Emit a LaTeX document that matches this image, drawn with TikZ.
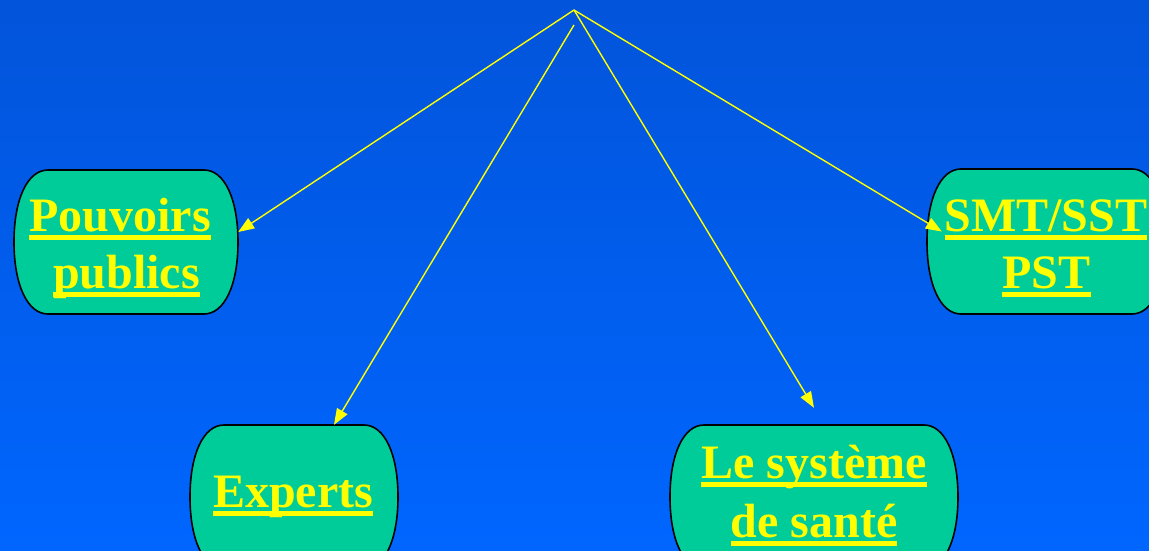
\documentclass[tikz,border=0pt]{standalone}
\usepackage{fontspec}
\setmainfont{Liberation Serif}
\usetikzlibrary{arrows.meta}

\definecolor{bgtop}{RGB}{2,84,218}
\definecolor{bgbot}{RGB}{0,102,255}
\definecolor{blobgreen}{RGB}{0,204,153}
\definecolor{wordyellow}{RGB}{255,255,0}

% underlined word: a solid bar under the whole box
\newcommand\ulword[1]{\setbox0\hbox{#1}\rlap{\rule[-8.5pt]{\wd0}{4.5pt}}\box0}

% horizontal reach of the curved sides and squareness of their curves
\newcommand\blobrx{34}
\newcommand\blobk{0.6}

% box with flat top/bottom and bulging sides: name, cx, cy, half width, half height
\newcommand\blob[5]{%
  \path[blobshape] (#2-#4+\blobrx,#3+#5) -- (#2+#4-\blobrx,#3+#5)
    .. controls (#2+#4-\blobrx+\blobk*\blobrx,#3+#5) and (#2+#4,#3+\blobk*#5) .. (#2+#4,#3)
    .. controls (#2+#4,#3-\blobk*#5) and (#2+#4-\blobrx+\blobk*\blobrx,#3-#5) .. (#2+#4-\blobrx,#3-#5)
    -- (#2-#4+\blobrx,#3-#5)
    .. controls (#2-#4+\blobrx-\blobk*\blobrx,#3-#5) and (#2-#4,#3-\blobk*#5) .. (#2-#4,#3)
    .. controls (#2-#4,#3+\blobk*#5) and (#2-#4+\blobrx-\blobk*\blobrx,#3+#5) .. (#2-#4+\blobrx,#3+#5)
    -- cycle;
  \node[blobarea,minimum width=2*#4,minimum height=2*#5] (#1) at (#2,#3) {};}

\tikzset{
  blobshape/.style={fill=blobgreen, draw=black, line width=1.6pt},
  blobarea/.style={rectangle, inner sep=0pt, draw=none},
  wordlabel/.style={anchor=base, inner sep=0pt, text=wordyellow,
    font=\fontsize{48}{57}\selectfont\bfseries},
  feed/.style={draw=wordyellow, line width=1.4pt,
    -{Triangle[length=16pt,width=12pt]}}
}

\begin{document}
\begin{tikzpicture}[x=1pt,y=1pt]
  \useasboundingbox (0,0) rectangle (1149,550);
  \clip (0,0) rectangle (1149,550);
  \shade[top color=bgtop, bottom color=bgbot] (0,0) rectangle (1149,550);

  % the four boxes
  \blob{pp}{126}{308}{112}{72}
  \blob{smt}{1046.5}{308.5}{119.5}{72.5}
  \blob{ex}{294}{53}{104}{72}
  \blob{sys}{814}{53}{144}{72}

  % common origin of the arrows
  \coordinate (apex) at (574,540);
  \coordinate (apex2) at (574,525);

  \draw[feed] (apex) -- ([yshift=10pt]pp.east);
  \draw[feed] (apex2) -- ([xshift=40pt]ex.north);
  \draw[feed] (apex) -- ([yshift=17pt]sys.north);
  \draw[feed] (apex) -- ([xshift=15pt,yshift=10pt]smt.west);

  % box texts
  \node[wordlabel] (pp-a) at (120,319) {\ulword{Pouvoirs}};
  \node[wordlabel] (pp-b) at (126.5,262) {\ulword{publics}};
  \node[wordlabel] (smt-a) at (1046,319) {\ulword{SMT/SST}};
  \node[wordlabel] (smt-b) at (1046.5,262) {\ulword{PST}};
  \node[wordlabel] (ex-a) at (293,43) {\ulword{Experts}};
  \node[wordlabel] (sys-a) at (814,72) {\ulword{Le système}};
  \node[wordlabel] (sys-b) at (814,13) {\ulword{de santé}};
\end{tikzpicture}
\end{document}
